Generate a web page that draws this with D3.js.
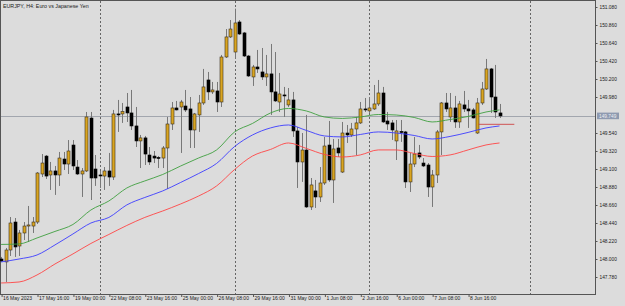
<!DOCTYPE html>
<html>
<head>
<meta charset="utf-8">
<script src="https://cdn.jsdelivr.net/npm/d3@7"></script>
<style>
  html, body { margin: 0; padding: 0; background: #dcdcdc; }
  svg { display: block; font-family: "Liberation Sans", Arial, sans-serif; }
</style>
</head>
<body>
<svg id="chart" width="625" height="306"></svg>
<script>
// EURJPY H4 candles, bar 0 = 16 May 2023 08:00
const opens = [148.000,147.964,148.110,148.452,148.159,148.318,148.403,148.403,148.452,149.039,
  149.258,149.027,149.076,149.027,149.222,149.161,149.393,149.124,149.039,149.076,
  149.723,149.100,149.027,149.014,149.076,149.002,149.773,149.773,149.858,149.785,
  149.626,149.443,149.480,149.271,149.258,149.241,149.234,149.357,149.650,149.846,
  149.858,149.870,149.834,149.577,149.761,149.907,150.188,150.042,150.054,149.919,
  150.469,150.714,150.530,150.897,150.763,150.481,150.225,150.347,150.286,150.225,
  150.262,150.042,149.919,150.005,149.883,149.944,149.565,149.186,149.332,148.636,
  148.832,148.758,148.929,149.393,148.966,149.357,149.063,149.540,149.516,149.589,
  149.663,149.834,149.810,149.834,149.895,150.029,149.687,149.663,149.443,149.559,
  149.553,148.942,149.161,149.296,149.173,149.149,148.880,149.027,149.553,149.907,
  149.736,149.846,149.675,149.883,149.834,149.822,149.540,149.907,150.078,150.323,
  149.980,149.785];
const highs = [148.025,148.135,148.513,148.501,148.355,148.452,148.648,148.513,149.063,149.283,
  149.271,149.186,149.137,149.308,149.308,149.454,149.454,149.210,149.112,149.797,
  149.797,149.271,149.076,149.124,149.296,149.822,149.944,149.907,150.029,150.066,
  149.858,149.516,149.504,149.369,149.320,149.258,149.381,149.736,149.919,149.932,
  149.944,150.066,149.980,149.785,150.005,150.323,150.286,150.164,150.164,150.494,
  150.811,150.921,151.060,150.921,150.775,150.494,150.372,150.555,150.579,150.494,
  150.628,150.530,150.274,150.103,150.090,150.042,149.614,149.540,149.761,148.990,
  148.966,149.124,149.492,149.687,149.467,149.467,149.675,149.638,149.663,149.736,
  149.919,149.968,149.980,150.127,150.188,150.103,149.797,149.699,149.699,149.699,
  149.565,149.296,149.492,149.394,149.234,149.173,149.088,149.577,149.919,150.029,
  150.029,149.993,149.932,150.054,149.944,149.846,149.968,150.164,150.445,150.335,
  150.372,149.895];
const lows = [147.964,147.719,148.037,148.025,148.037,148.232,148.208,148.318,148.428,149.002,
  148.978,148.844,148.783,148.893,149.088,149.039,149.088,149.027,148.758,149.063,
  148.721,148.893,148.868,148.844,148.893,148.966,149.553,149.663,149.675,149.577,
  149.369,149.112,149.149,149.149,149.173,149.112,149.112,148.856,149.577,149.816,
  149.296,149.797,149.357,149.357,149.553,149.883,149.944,150.017,149.797,149.858,
  150.457,150.701,150.445,150.738,150.469,150.225,150.115,150.274,150.188,150.115,
  149.761,149.919,149.797,149.736,149.858,149.492,148.868,148.942,148.624,148.599,
  148.624,148.697,148.905,148.942,148.685,149.247,149.051,149.418,149.492,149.271,
  149.650,149.797,149.785,149.822,149.870,149.663,149.577,149.455,149.210,149.431,
  148.868,148.819,149.124,149.222,149.124,148.758,148.636,148.929,149.271,149.797,
  149.675,149.602,149.602,149.797,149.602,149.718,149.528,149.883,150.066,149.785,
  149.724,149.724];
const closes = [147.976,148.110,148.440,148.147,148.318,148.403,148.416,148.452,149.051,149.173,
  149.014,149.076,149.027,149.234,149.161,149.320,149.137,149.039,149.076,149.736,
  148.990,148.990,149.021,149.076,149.002,149.773,149.767,149.803,149.785,149.626,
  149.443,149.480,149.283,149.186,149.234,149.234,149.357,149.650,149.846,149.822,
  149.919,149.822,149.577,149.773,149.907,150.103,150.042,150.066,149.919,150.469,
  150.714,150.811,150.885,150.750,150.481,150.237,150.347,150.323,150.225,150.262,
  150.042,149.932,150.017,150.001,149.944,149.565,149.186,149.332,148.636,148.905,
  148.758,148.929,149.381,148.966,149.345,149.296,149.540,149.516,149.589,149.663,
  149.834,149.830,149.846,149.895,150.029,149.675,149.650,149.577,149.565,149.553,
  148.942,149.161,149.283,149.247,149.137,148.880,149.027,149.553,149.907,149.834,
  149.846,149.675,149.895,149.834,149.810,149.724,149.907,150.078,150.323,149.980,
  149.797,149.749];

// moving averages, read every 4th bar (plus the last one)
const maIndex = [0,4,8,12,16,20,24,28,32,36,40,44,48,52,56,60,64,68,72,76,80,84,88,92,96,100,104,108,111];
const maGreen = [148.178,148.184,148.257,148.337,148.422,148.599,148.709,148.868,148.954,149.033,
  149.137,149.235,149.333,149.553,149.657,149.785,149.840,149.809,149.736,149.718,
  149.736,149.766,149.760,149.730,149.675,149.705,149.742,149.797,149.822];
const maBlue = [147.964,148.000,148.049,148.172,148.306,148.440,148.508,148.661,148.752,148.832,
  148.936,149.045,149.168,149.375,149.516,149.602,149.638,149.571,149.504,149.492,
  149.522,149.553,149.540,149.510,149.467,149.498,149.547,149.602,149.626];
const maRed = [147.707,147.719,147.805,147.939,148.062,148.190,148.300,148.410,148.508,148.587,
  148.673,148.770,148.893,149.094,149.259,149.339,149.418,149.351,149.278,149.247,
  149.272,149.333,149.333,149.290,149.253,149.272,149.333,149.394,149.418];

const priceTicks = [151.08,150.86,150.64,150.42,150.20,149.98,149.54,149.32,149.10,148.88,148.66,148.44,148.22,148.00,147.78];
const timeTickIndex = [0,8,16,24,32,40,48,56,64,72,80,88,96,104];
const timeTickLabels = ["16 May 2023","17 May 16:00","19 May 00:00","22 May 08:00","23 May 16:00","25 May 00:00",
  "26 May 08:00","29 May 16:00","31 May 00:00","1 Jun 08:00","2 Jun 16:00","6 Jun 00:00","7 Jun 08:00","8 Jun 16:00"];
const separatorIndex = [22, 52, 82, 117.8];
const bidPrice = 149.749;
const levelPrice = 149.646;
const levelRange = [106.3, 114.3];

const svg = d3.select("#chart");
const plotRight = 595, plotBottom = 294;

const x = d3.scaleLinear().domain([0, 111]).range([1.1, 499.5]);
const y = d3.scaleLinear().domain([147.78, 151.08]).range([277, 7]);

// frame
svg.append("rect")
	.attr("x", 0.5).attr("y", 0.5)
	.attr("width", plotRight).attr("height", plotBottom)
	.attr("fill", "none").attr("stroke", "#555").attr("stroke-width", 1);

// title
svg.append("text")
	.attr("x", 3).attr("y", 7.5)
	.attr("font-size", 5.3).attr("fill", "#1a1a1a")
	.text("EURJPY, H4:  Euro vs Japanese Yen");

// period separators
svg.append("g").selectAll("line")
	.data(separatorIndex)
	.join("line")
	.attr("x1", (d) => Math.round(x(d)) + 0.5)
	.attr("x2", (d) => Math.round(x(d)) + 0.5)
	.attr("y1", 1).attr("y2", plotBottom)
	.attr("stroke", "#666").attr("stroke-dasharray", "2,2");

// bid line
svg.append("line")
	.attr("x1", 1).attr("x2", plotRight)
	.attr("y1", Math.round(y(bidPrice)) + 0.5).attr("y2", Math.round(y(bidPrice)) + 0.5)
	.attr("stroke", "#a2a6ae");

// candles
const bars = d3.range(opens.length).map((i) => ({
	i: i, o: opens[i], h: highs[i], l: lows[i], c: closes[i]
}));
const candles = svg.append("g").selectAll("g")
	.data(bars)
	.join("g");
candles.append("line")
	.attr("x1", (d) => Math.round(x(d.i)) + 0.5)
	.attr("x2", (d) => Math.round(x(d.i)) + 0.5)
	.attr("y1", (d) => y(d.h))
	.attr("y2", (d) => y(d.l))
	.attr("stroke", "#787878");
candles.append("rect")
	.attr("x", (d) => Math.round(x(d.i)) - 1)
	.attr("width", 3)
	.attr("y", (d) => y(Math.max(d.o, d.c)))
	.attr("height", (d) => Math.max(1, Math.abs(y(d.o) - y(d.c))))
	.attr("fill", (d) => (d.c >= d.o ? "#daa520" : "#000"))
	.attr("stroke", (d) => (d.c >= d.o ? "#3a3020" : "#000"))
	.attr("stroke-width", 0.6);

// moving averages
const maLine = d3.line()
	.x((d) => x(d[0]))
	.y((d) => y(d[1]))
	.curve(d3.curveMonotoneX);
[[maGreen, "#3f9f3f"], [maBlue, "#3c3cff"], [maRed, "#ff4545"]].forEach(([vals, color]) => {
	svg.append("path")
		.datum(maIndex.map((k, j) => [k, vals[j]]))
		.attr("d", maLine)
		.attr("fill", "none")
		.attr("stroke", color)
		.attr("stroke-width", 0.9);
});

// horizontal level
svg.append("line")
	.attr("x1", x(levelRange[0])).attr("x2", x(levelRange[1]))
	.attr("y1", y(levelPrice)).attr("y2", y(levelPrice))
	.attr("stroke", "#cc4444").attr("stroke-width", 0.9);

// price axis
const yAxis = svg.append("g")
	.attr("transform", `translate(${plotRight + 0.5},0)`)
	.call(d3.axisRight(y).tickValues(priceTicks).tickSize(2).tickPadding(2).tickFormat(d3.format(".3f")));
yAxis.select(".domain").remove();
yAxis.selectAll("line").attr("stroke", "#555");
yAxis.selectAll("text").attr("font-size", 4.8).attr("fill", "#1a1a1a").attr("font-family", "Liberation Sans, Arial, sans-serif");

// current price tag
svg.append("rect")
	.attr("x", 597).attr("y", y(bidPrice) - 3.3)
	.attr("width", 22).attr("height", 6.6)
	.attr("fill", "#8e9ab0");
svg.append("text")
	.attr("x", 599).attr("y", y(bidPrice) + 1.7)
	.attr("font-size", 4.8).attr("fill", "#eef0f4")
	.text(d3.format(".3f")(bidPrice));

// time axis
const xAxis = svg.append("g")
	.attr("transform", `translate(0,${plotBottom + 0.5})`)
	.call(d3.axisBottom(x).tickValues(timeTickIndex).tickSize(2.5).tickFormat((d, j) => timeTickLabels[j]));
xAxis.select(".domain").remove();
xAxis.selectAll("line").attr("stroke", "#555").attr("transform", "translate(0.5,0)");
xAxis.selectAll("text")
	.attr("font-size", 5)
	.attr("fill", "#1a1a1a")
	.attr("font-family", "Liberation Sans, Arial, sans-serif")
	.attr("text-anchor", "start")
	.attr("x", 1.5)
	.attr("y", 2)
	.attr("dy", "0.71em");
</script>
</body>
</html>
